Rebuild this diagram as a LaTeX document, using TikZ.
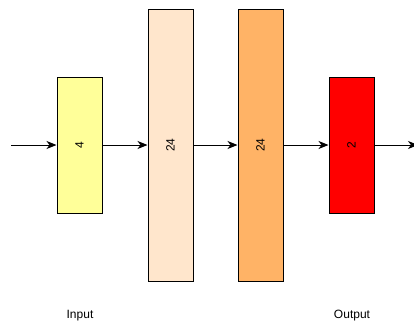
\documentclass[tikz,border=0pt]{standalone}
\usepackage{fontspec}
\setmainfont{Liberation Sans}
\usetikzlibrary{arrows.meta}
\definecolor{cyel}{HTML}{FFFF99}
\definecolor{cpeach}{HTML}{FFE6CC}
\definecolor{corange}{HTML}{FFB366}
\definecolor{cred}{HTML}{FF0000}
\begin{document}
\begin{tikzpicture}[x=1pt,y=-1pt,
  layer/.style={draw=black,line width=1pt,minimum width=45pt,inner sep=0pt,
    font=\fontsize{12}{14}\selectfont},
  conn/.style={line width=1pt,-{Stealth[length=10pt,width=8pt,inset=3pt]}},
  lbl/.style={font=\fontsize{12}{14}\selectfont}]
\useasboundingbox (0,0) rectangle (414,325);
\node[layer,fill=cyel,minimum height=136pt] (l1) at (79.5,145) {};
\node[rotate=90,font=\fontsize{12}{14}\selectfont] at (l1.center) {4};
\node[layer,fill=cpeach,minimum height=272pt] (l2) at (170.5,145) {};
\node[rotate=90,font=\fontsize{12}{14}\selectfont] at (l2.center) {24};
\node[layer,fill=corange,minimum height=272pt] (l3) at (260.5,145) {};
\node[rotate=90,font=\fontsize{12}{14}\selectfont] at (l3.center) {24};
\node[layer,fill=cred,minimum height=136pt] (l4) at (351.5,145) {};
\node[rotate=90,font=\fontsize{12}{14}\selectfont] at (l4.center) {2};
\coordinate (in) at (11,145);
\coordinate (out) at (418,145);
\draw[conn] (in) -- (l1.west);
\draw[conn] (l1.east) -- (l2.west);
\draw[conn] (l2.east) -- (l3.west);
\draw[conn] (l3.east) -- (l4.west);
\draw[conn] (l4.east) -- (out);
\node[lbl] (tin) at (80,316) {Input};
\node[lbl] (tout) at (352,316) {Output};
\end{tikzpicture}
\end{document}
